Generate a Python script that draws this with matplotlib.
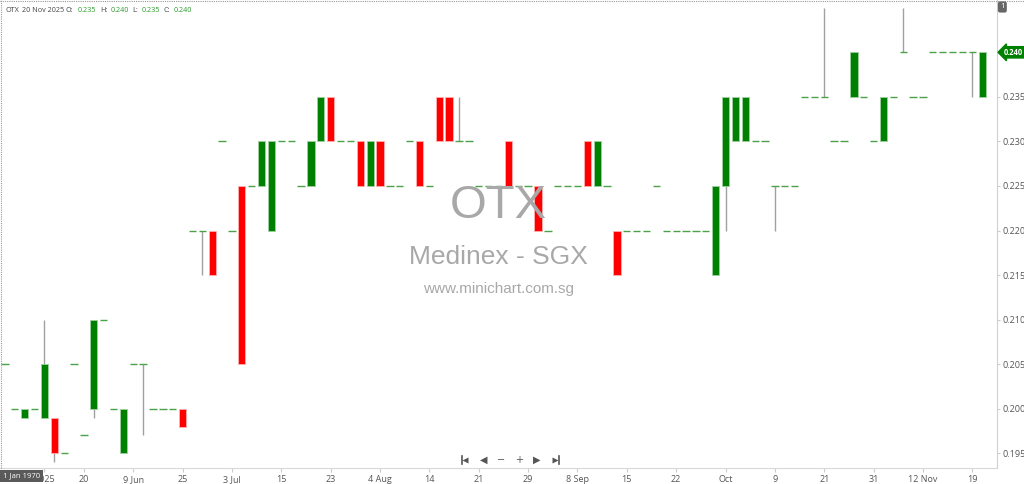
import matplotlib.pyplot as plt
from matplotlib.lines import Line2D
import numpy as np

# daily OHLC, OTX (Medinex - SGX)
opens = [0.205, 0.200, 0.199, 0.200, 0.199, 0.199, 0.195, 0.205, 0.197, 0.200,
         0.210, 0.200, 0.195, 0.205, 0.205, 0.200, 0.200, 0.200, 0.200, 0.220,
         0.220, 0.220, 0.230, 0.220, 0.225, 0.225, 0.225, 0.220, 0.230, 0.230,
         0.225, 0.225, 0.230, 0.235, 0.230, 0.230, 0.230, 0.225, 0.230, 0.225,
         0.225, 0.230, 0.230, 0.225, 0.235, 0.235, 0.230, 0.230, 0.225, 0.225,
         0.225, 0.230, 0.225, 0.225, 0.225, 0.220, 0.225, 0.225, 0.225, 0.230,
         0.225, 0.225, 0.220, 0.220, 0.220, 0.220, 0.225, 0.220, 0.220, 0.220,
         0.220, 0.220, 0.215, 0.225, 0.230, 0.230, 0.230, 0.230, 0.225, 0.225,
         0.225, 0.235, 0.235, 0.235, 0.230, 0.230, 0.235, 0.235, 0.230, 0.230,
         0.235, 0.240, 0.235, 0.235, 0.240, 0.240, 0.240, 0.240, 0.240, 0.235]
highs = [0.205, 0.200, 0.200, 0.200, 0.210, 0.199, 0.195, 0.205, 0.197, 0.210,
         0.210, 0.200, 0.200, 0.205, 0.205, 0.200, 0.200, 0.200, 0.200, 0.220,
         0.220, 0.220, 0.230, 0.220, 0.225, 0.225, 0.230, 0.230, 0.230, 0.230,
         0.225, 0.230, 0.235, 0.235, 0.230, 0.230, 0.230, 0.230, 0.230, 0.225,
         0.225, 0.230, 0.230, 0.225, 0.235, 0.235, 0.235, 0.230, 0.225, 0.225,
         0.225, 0.230, 0.225, 0.225, 0.225, 0.220, 0.225, 0.225, 0.225, 0.230,
         0.230, 0.225, 0.220, 0.220, 0.220, 0.220, 0.225, 0.220, 0.220, 0.220,
         0.220, 0.220, 0.225, 0.235, 0.235, 0.235, 0.230, 0.230, 0.225, 0.225,
         0.225, 0.235, 0.235, 0.245, 0.230, 0.230, 0.240, 0.235, 0.230, 0.235,
         0.235, 0.245, 0.235, 0.235, 0.240, 0.240, 0.240, 0.240, 0.240, 0.240]
lows = [0.205, 0.200, 0.199, 0.200, 0.199, 0.194, 0.195, 0.205, 0.197, 0.199,
        0.210, 0.200, 0.195, 0.205, 0.197, 0.200, 0.200, 0.200, 0.198, 0.220,
        0.215, 0.215, 0.230, 0.220, 0.205, 0.225, 0.225, 0.220, 0.230, 0.230,
        0.225, 0.225, 0.230, 0.230, 0.230, 0.230, 0.225, 0.225, 0.225, 0.225,
        0.225, 0.230, 0.225, 0.225, 0.230, 0.230, 0.230, 0.230, 0.225, 0.225,
        0.225, 0.225, 0.225, 0.225, 0.220, 0.220, 0.225, 0.225, 0.225, 0.225,
        0.225, 0.225, 0.215, 0.220, 0.220, 0.220, 0.225, 0.220, 0.220, 0.220,
        0.220, 0.220, 0.215, 0.220, 0.230, 0.230, 0.230, 0.230, 0.220, 0.225,
        0.225, 0.235, 0.235, 0.235, 0.230, 0.230, 0.235, 0.235, 0.230, 0.230,
        0.235, 0.240, 0.235, 0.235, 0.240, 0.240, 0.240, 0.240, 0.235, 0.235]
closes = [0.205, 0.200, 0.200, 0.200, 0.205, 0.195, 0.195, 0.205, 0.197, 0.210,
          0.210, 0.200, 0.200, 0.205, 0.205, 0.200, 0.200, 0.200, 0.198, 0.220,
          0.220, 0.215, 0.230, 0.220, 0.205, 0.225, 0.230, 0.230, 0.230, 0.230,
          0.225, 0.230, 0.235, 0.230, 0.230, 0.230, 0.225, 0.230, 0.225, 0.225,
          0.225, 0.230, 0.225, 0.225, 0.230, 0.230, 0.230, 0.230, 0.225, 0.225,
          0.225, 0.225, 0.225, 0.225, 0.220, 0.220, 0.225, 0.225, 0.225, 0.225,
          0.230, 0.225, 0.215, 0.220, 0.220, 0.220, 0.225, 0.220, 0.220, 0.220,
          0.220, 0.220, 0.225, 0.235, 0.235, 0.235, 0.230, 0.230, 0.225, 0.225,
          0.225, 0.235, 0.235, 0.235, 0.230, 0.230, 0.240, 0.235, 0.230, 0.235,
          0.235, 0.240, 0.235, 0.235, 0.240, 0.240, 0.240, 0.240, 0.240, 0.240]

tick_pos = [4, 8, 13, 18, 23, 28, 33, 38, 43, 48, 53, 58, 63, 68, 73, 78, 83, 88, 93, 98]
tick_labels = ['2025', '20', '9 Jun', '25', '3 Jul', '15', '23', '4 Aug', '14', '21',
               '29', '8 Sep', '15', '22', 'Oct', '9', '21', '31', '12 Nov', '19']
price_ticks = [0.195, 0.200, 0.205, 0.210, 0.215, 0.220, 0.225, 0.230, 0.235, 0.240]

UP = '#008000'
DOWN = '#ff0000'
FLAT = '#4aa24a'
WICK = '#a0a0a0'

plt.rcParams['font.family'] = ['Open Sans', 'DejaVu Sans']

fig = plt.figure(figsize=(10.24, 4.84), dpi=100)
ax = fig.add_axes([0, 16 / 484, 997 / 1024, 468 / 484])

o = np.array(opens)
h = np.array(highs)
l = np.array(lows)
c = np.array(closes)
idx = np.arange(len(o))

# wicks
has_wick = h > l
ax.vlines(idx[has_wick], l[has_wick], h[has_wick], color=WICK, lw=1, zorder=1)

# bodies
up = c > o
down = c < o
flat = c == o
ax.bar(idx[up], (c - o)[up], bottom=o[up], width=0.74, color=UP,
       edgecolor='#9fd09f', linewidth=0.6, zorder=2)
ax.bar(idx[down], (o - c)[down], bottom=c[down], width=0.74, color=DOWN,
       edgecolor='#ffb0b0', linewidth=0.6, zorder=2)
ax.hlines(o[flat], idx[flat] - 0.37, idx[flat] + 0.37, color=FLAT, lw=1, zorder=2)

ax.set_xlim(-0.5, 100.5)
ax.set_ylim(0.19335, 0.24587)

ax.yaxis.tick_right()
ax.set_yticks(price_ticks)
# the last price tag sits over the 0.240 label
ax.set_yticklabels(['%.3f' % v if v != closes[-1] else '' for v in price_ticks])
ax.set_xticks(tick_pos)
ax.set_xticklabels(tick_labels)
ax.tick_params(axis='y', length=2, color='#cccccc', labelsize=6.5,
               labelcolor='#555555', pad=2)
ax.tick_params(axis='x', length=3, color='#cccccc', labelsize=6.5,
               labelcolor='#555555', pad=2)
for s in ['top', 'left']:
    ax.spines[s].set_visible(False)
ax.spines['right'].set_color('#d0d0d0')
ax.spines['bottom'].set_color('#d8d8d8')

# watermark
ax.text(0.5, 0.56, 'OTX', transform=ax.transAxes, ha='center', va='center',
        fontsize=34, color='#a8a8a8', family='Liberation Sans')
ax.text(0.5, 0.45, 'Medinex - SGX', transform=ax.transAxes, ha='center',
        va='center', fontsize=19, color='#a8a8a8', family='Liberation Sans')
ax.text(0.5, 0.382, 'www.minichart.com.sg', transform=ax.transAxes, ha='center',
        va='center', fontsize=11, color='#a8a8a8', family='Liberation Sans')

# header
hy = 1 - 10 / 484
parts = [(5, 'OTX', '#444444'), (22, '20 Nov 2025', '#444444'),
         (66, 'O:', '#444444'), (78, '0.235', '#2a9a2a'), (100, 'H:', '#444444'),
         (111, '0.240', '#2a9a2a'), (132, 'L:', '#444444'), (142, '0.235', '#2a9a2a'),
         (163, 'C:', '#444444'), (174, '0.240', '#2a9a2a')]
for px, t, col in parts:
    fig.text(px / 1024, hy, t, fontsize=5.2, color=col, va='center')

# dotted frame on top and left
fig.add_artist(Line2D([0, 1], [1 - 0.5 / 484] * 2, color='#999999', lw=0.8,
                      ls=(0, (1, 1)), transform=fig.transFigure))
fig.add_artist(Line2D([0.5 / 1024] * 2, [16 / 484, 1], color='#999999', lw=0.8,
                      ls=(0, (1, 1)), transform=fig.transFigure))

# price tags on the right
fig.text(1000 / 1024, 1 - 7 / 484, '1', fontsize=6, color='white', va='center',
         bbox=dict(boxstyle='round,pad=0.25', fc='#666666', ec='none'))
ax.annotate('%.3f' % closes[-1], xy=(1.0, closes[-1]),
            xycoords=('axes fraction', 'data'), xytext=(5, 0),
            textcoords='offset points', fontsize=5.5, color='white',
            va='center', ha='left', fontweight='bold',
            bbox=dict(boxstyle='larrow,pad=0.15', fc=UP, ec=UP))

# navigation buttons
ny = 1 - 460 / 484
for px, t in [(484, '◀'), (501, '−'), (519, '+'), (537, '▶')]:
    fig.text(px / 1024, ny, t, fontsize=7, color='#555555',
             ha='center', va='center', family='DejaVu Sans')
# first / last buttons: no installed font has these glyphs, draw them
for px, bar_dx, tri in [(465, -3.5, '<'), (555, 3.5, '>')]:
    fig.add_artist(Line2D([px / 1024], [ny], marker=tri, ms=5, color='#555555',
                          mec='none', transform=fig.transFigure))
    fig.add_artist(Line2D([(px + bar_dx) / 1024] * 2, [ny - 4 / 484, ny + 4 / 484],
                          color='#555555', lw=1.2, transform=fig.transFigure))

# crosshair date box
fig.text(3 / 1024, 1 - 476 / 484, '1 Jan 1970', fontsize=5.5, color='white',
         va='center', bbox=dict(boxstyle='square,pad=0.35', fc='#5a5a5a', ec='none'))

fig.savefig('out.png', dpi=100)
